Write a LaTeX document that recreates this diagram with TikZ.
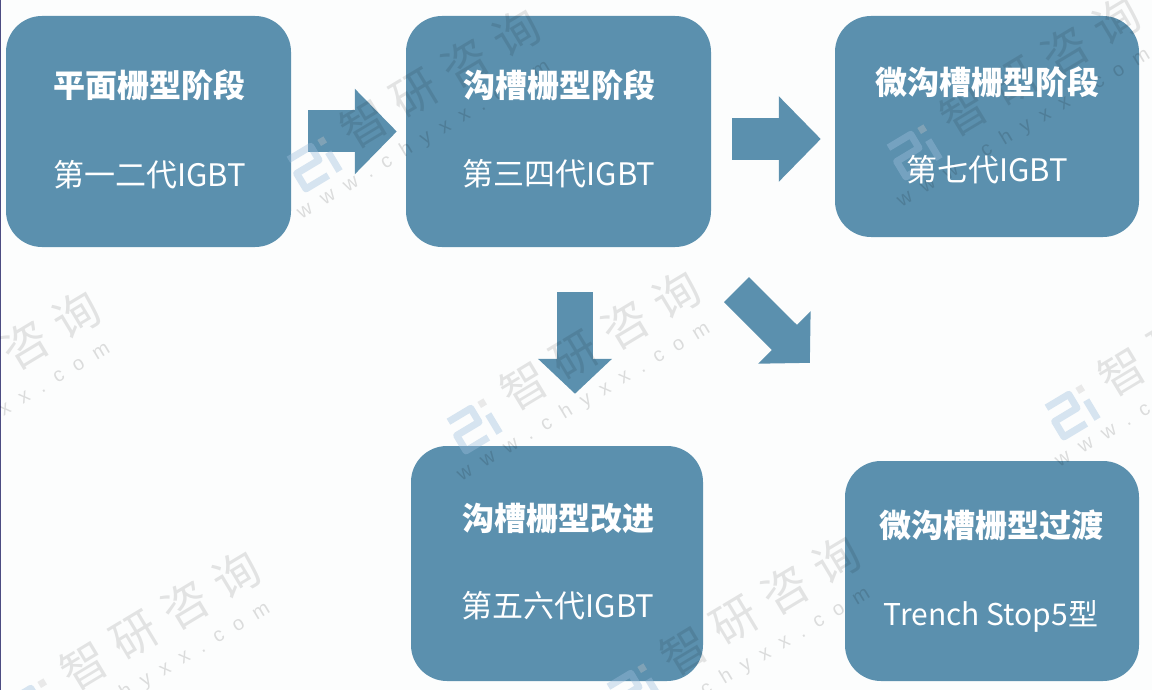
\documentclass[tikz,border=0pt]{standalone}
\usepackage{fontspec}
\setmainfont{Noto Sans CJK SC}
\newfontfamily\urlfont[LetterSpace=62]{Liberation Sans}
\usetikzlibrary{arrows.meta}
\definecolor{boxblue}{HTML}{5B90AE}
\definecolor{logoblue}{HTML}{9DBFDD}
\tikzset{
  x=1pt,y=-1pt,
  stagebox/.style={fill=boxblue,draw=none,rounded corners=36pt,inner sep=0pt,anchor=center},
  titletext/.style={text=white,inner sep=0pt,font=\fontsize{32}{36}\selectfont\bfseries},
  subtext/.style={text=white,inner sep=0pt,font=\fontsize{31}{35}\selectfont},
  subtextlatin/.style={text=white,inner sep=0pt,font=\fontsize{30}{34}\selectfont},
  hblock/.style={draw=boxblue,line width=42pt,-{Triangle[length=42pt,width=83pt]}},
  vblock/.style={draw=boxblue,line width=36pt,-{Triangle[length=35pt,width=72pt]}},
  dblock/.style={draw=boxblue,line width=35.4pt,-{Triangle[length=36pt,width=72pt]}},
  wmcn/.style={text=black,text opacity=0.10,inner sep=0pt,rotate=31,font=\fontsize{46}{50}\selectfont},
  wmurl/.style={text=black,text opacity=0.13,inner sep=0pt,rotate=31,font=\fontsize{20}{24}\urlfont},
}
\newcommand{\wmark}[2]{%
  \begin{scope}[shift={(#1,#2)},rotate=31]
    \node[wmcn] at (0,0) {智\hspace{13pt}研\hspace{13pt}咨\hspace{13pt}询};
    \node[wmurl] at (-46,45) {www.chyxx.com};
    \draw[logoblue,opacity=0.4,line width=7pt,line join=round]
      (-172,-8) -- (-146,-8) -- (-146,8) -- (-172,8) -- (-172,26) -- (-146,26);
    \draw[logoblue,opacity=0.4,line width=7pt] (-134,6) -- (-134,28);
    \fill[gray!45,opacity=0.35] (-137,-10) rectangle (-130,-3);
  \end{scope}}
\begin{document}
\begin{tikzpicture}
\useasboundingbox (0,0) rectangle (1152,690);
\clip (0,0) rectangle (1152,690);
\fill[white!98!boxblue] (0,0) rectangle (1152,690);
\draw[line width=1.6pt,draw=black!70!blue!70] (0.5,0) -- (0.5,690);

\node[stagebox,minimum width=285pt,minimum height=231pt] (A) at (148.5,131.5) {};
\node[stagebox,minimum width=305pt,minimum height=231pt] (B) at (558.5,131.5) {};
\node[stagebox,minimum width=304pt,minimum height=221pt] (C) at (987,126.5) {};
\node[stagebox,minimum width=292pt,minimum height=235pt] (D) at (557,563.5) {};
\node[stagebox,minimum width=294pt,minimum height=220pt] (E) at (992,571) {};

\draw[hblock,shorten <=17pt,shorten >=9pt] (A) -- (B);
\draw[hblock,shorten <=21pt,shorten >=14pt] ([yshift=-7.5pt]B.east) -- ([yshift=-12.5pt]C.west);
\draw[vblock,shorten <=45pt,shorten >=52pt] ([xshift=16.5pt]B.south) -- ([xshift=18pt]D.north);
\draw[dblock,shorten <=60.1pt,shorten >=138.6pt] ([xshift=135.5pt]B.south) -- ([xshift=-84pt]E.north);

\wmark{440}{78}
\wmark{1040}{66}
\wmark{0}{360}
\wmark{600}{340}
\wmark{1198}{326}
\wmark{160}{620}
\wmark{760}{605}

\node[titletext] (At) at (149.5,85) {平面栅型阶段};
\node[subtext] (As) at (149.5,175) {第一二代IGBT};
\node[titletext] (Bt) at (559,85) {沟槽栅型阶段};
\node[subtext] (Bs) at (559,174) {第三四代IGBT};
\node[titletext] (Ct) at (987,82) {微沟槽栅型阶段};
\node[subtext] (Cs) at (987,170) {第七代IGBT};
\node[titletext] (Dt) at (558,518) {沟槽栅型改进};
\node[subtext] (Ds) at (558,606) {第五六代IGBT};
\node[titletext] (Et) at (991,525) {微沟槽栅型过渡};
\node[subtextlatin] (Es) at (991,616) {Trench Stop5型};
\end{tikzpicture}
\end{document}
